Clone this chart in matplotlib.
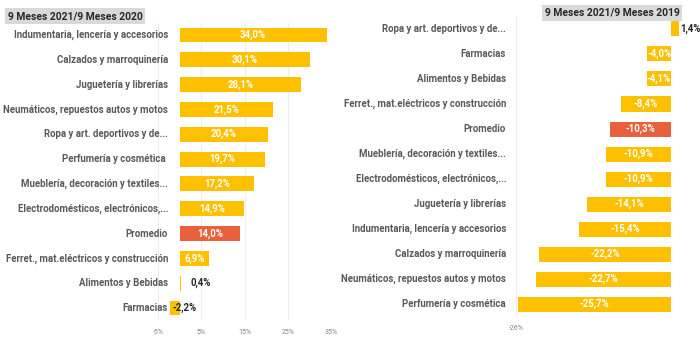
import matplotlib.pyplot as plt
import matplotlib.transforms as mtransforms

plt.rcParams['font.family'] = ['Roboto', 'DejaVu Sans']

# 9 meses 2021 vs 9 meses 2020
cats_2020 = ['Indumentaria, lencería y accesorios', 'Calzados y marroquinería',
             'Juguetería y librerías', 'Neumáticos, repuestos autos y motos',
             'Ropa y art. deportivos y de...', 'Perfumería y cosmética ',
             'Mueblería, decoración y textiles...', 'Electrodomésticos, electrónicos,...',
             'Promedio', 'Ferret., mat.eléctricos y construcción',
             'Alimentos y Bebidas', 'Farmacias']
vals_2020 = [34.0, 30.1, 28.1, 21.5, 20.4, 19.7, 17.2, 14.9, 14.0, 6.9, 0.4, -2.2]

# 9 meses 2021 vs 9 meses 2019
cats_2019 = ['Ropa y art. deportivos y de...', 'Farmacias', 'Alimentos y Bebidas',
             'Ferret., mat.eléctricos y construcción', 'Promedio',
             'Mueblería, decoración y textiles...', 'Electrodomésticos, electrónicos,...',
             'Juguetería y librerías', 'Indumentaria, lencería y accesorios',
             'Calzados y marroquinería', 'Neumáticos, repuestos autos y motos',
             'Perfumería y cosmética']
vals_2019 = [1.4, -4.0, -4.1, -8.4, -10.3, -10.9, -10.9, -14.1, -15.4, -22.2, -22.7, -25.7]

YELLOW = '#FFC000'
RED = '#E8603C'
LABEL = '#595959'


def fmt(v):
    return f'{v:.1f}%'.replace('.', ',')


def panel(ax, cats, vals, xlim, ticks, title, title_xy, label_x, small, off):
    n = len(cats)
    ys = list(range(n))[::-1]
    colors = [RED if c == 'Promedio' else YELLOW for c in cats]
    ax.barh(ys, vals, height=0.6, color=colors, clip_on=False, zorder=2)
    ax.set_xlim(*xlim)
    ax.set_ylim(-0.5, n - 0.5)
    ax.set_xticks(ticks)
    ax.set_xticklabels([f'{t}%' for t in ticks])
    ax.tick_params(axis='x', length=0, labelsize=5, labelcolor='#7F7F7F', pad=6)
    ax.set_yticks([])
    for s in ax.spines.values():
        s.set_visible(False)
    ax.grid(axis='x', color='#EDEDED', lw=0.8, zorder=0)
    tr = mtransforms.blended_transform_factory(ax.transAxes, ax.transData)
    for y, c, v in zip(ys, cats, vals):
        ax.text(label_x, y, c, transform=tr, ha='right', va='center',
                fontsize=6.9, color=LABEL, fontweight='bold')
        if abs(v) < small:
            x = v + off if v > 0 else v + 0.6
            ax.text(x, y, fmt(v), ha='left', va='center', fontsize=6.9,
                    color='#262626', fontweight='bold', clip_on=False, zorder=3)
        else:
            ax.text(v / 2, y, fmt(v), ha='center', va='center', fontsize=6.9,
                    color='white', fontweight='bold', zorder=3)
    ax.figure.text(title_xy[0], title_xy[1], title, fontsize=7.4, fontweight='bold',
                   color='#262626', ha='left', va='center',
                   bbox=dict(boxstyle='square,pad=0.25', fc='#D9D9D9', ec='none'))


fig = plt.figure(figsize=(7, 3.43), dpi=100)

ax1 = fig.add_axes([158 / 700, 0.066, 173 / 700, 0.868])
panel(ax1, cats_2020, vals_2020, (-5, 35), [-5, 5, 15, 25, 35],
      '9 Meses 2021/9 Meses 2020', (8 / 700, 1 - 16 / 343), 10 / 173, 3, 2.0)

ax2 = fig.add_axes([516 / 700, 0.077, 155 / 700, 0.875])
panel(ax2, cats_2019, vals_2019, (-26, 0), [-26],
      '9 Meses 2021/9 Meses 2019', (545 / 700, 1 - 13 / 343), -10 / 155, 2, 0.1)
ax2.axvline(0, color='#D9D9D9', lw=0.8, zorder=1)

fig.savefig('out.png', dpi=100)
